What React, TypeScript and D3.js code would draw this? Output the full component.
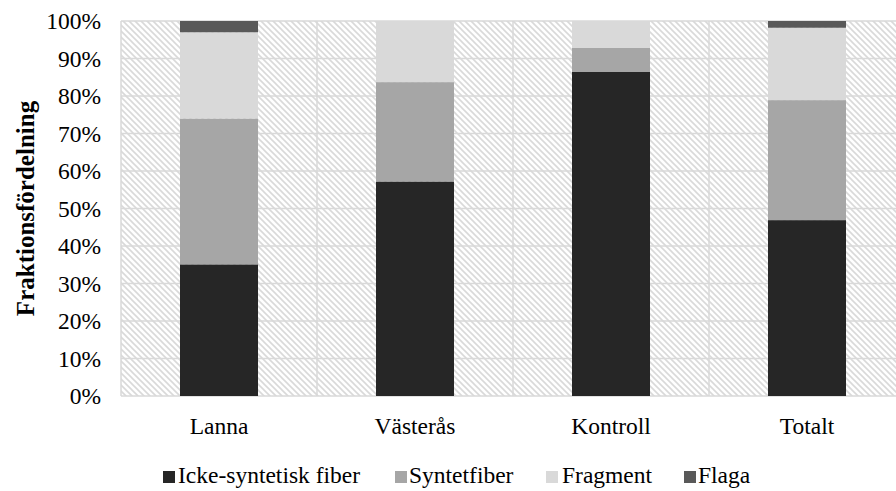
import React from "react";
import * as d3 from "d3";

const categories = ["Lanna", "Västerås", "Kontroll", "Totalt"];
const seriesNames = ["Icke-syntetisk fiber", "Syntetfiber", "Fragment", "Flaga"];
const ickeSyntetisk = [35.1, 57.2, 86.4, 46.9];
const syntetfiber = [38.9, 26.5, 6.4, 32.0];
const fragment = [23.0, 16.3, 7.2, 19.3];
const flaga = [3.0, 0, 0, 1.8];
const seriesColors = ["#262626", "#a6a6a6", "#d9d9d9", "#595959"];
const yTicks = [0, 10, 20, 30, 40, 50, 60, 70, 80, 90, 100];

const W = 896;
const H = 491;
const plotLeft = 121;
const plotTop = 21;
const plotBottom = 396;
const plotRight = 905;
const FONT = '"Liberation Serif", "Times New Roman", "DejaVu Serif", serif';
const textStyle = { fontFamily: FONT };

export default function App() {
  const x = d3
    .scaleBand<string>()
    .domain(categories)
    .range([plotLeft, plotRight])
    .paddingInner(0.602)
    .paddingOuter(0.301);
  const y = d3.scaleLinear().domain([0, 100]).range([plotBottom, plotTop]);

  const rows = categories.map((c, i) => ({
    cat: c,
    s0: ickeSyntetisk[i],
    s1: syntetfiber[i],
    s2: fragment[i],
    s3: flaga[i],
  }));
  const stack = d3.stack<any>().keys(["s0", "s1", "s2", "s3"]);
  const layers = stack(rows);

  const step = x.step();
  const boundaries = d3.range(categories.length + 1).map((i) => plotLeft + i * step);

  const legendItems = [
    { sq: 163, tx: 178 },
    { sq: 395, tx: 409 },
    { sq: 546, tx: 562 },
    { sq: 684, tx: 698 },
  ];

  return (
    <svg
      width={W}
      height={H}
      style={{ position: "absolute", left: 0, top: 0, background: "#fff" }}
    >
      <defs>
        <pattern id="hatch" patternUnits="userSpaceOnUse" width={6} height={6}>
          <rect width={6} height={6} fill="#ffffff" />
          <path d="M0,0 L6,6 M-1,5 L1,7 M5,-1 L7,1" stroke="#d9d9d9" strokeWidth={1.6} />
        </pattern>
        <clipPath id="clip">
          <rect x={0} y={0} width={W} height={H} />
        </clipPath>
      </defs>
      <g clipPath="url(#clip)">
        <rect
          x={plotLeft}
          y={plotTop}
          width={plotRight - plotLeft}
          height={plotBottom - plotTop}
          fill="url(#hatch)"
        />
        {yTicks.map((t) => (
          <line
            key={"h" + t}
            x1={plotLeft}
            x2={plotRight}
            y1={y(t)}
            y2={y(t)}
            stroke="#d9d9d9"
            strokeWidth={1.5}
          />
        ))}
        {boundaries.map((b, i) => (
          <line
            key={"v" + i}
            x1={b}
            x2={b}
            y1={plotTop}
            y2={plotBottom}
            stroke="#d9d9d9"
            strokeWidth={1.5}
          />
        ))}
        {layers.map((layer, li) => (
          <g key={layer.key} fill={seriesColors[li]}>
            {layer.map((d: any, i: number) => {
              const h = y(d[0]) - y(d[1]);
              if (h <= 0) return null;
              return (
                <rect
                  key={i}
                  x={x(categories[i])}
                  y={y(d[1])}
                  width={x.bandwidth()}
                  height={h}
                />
              );
            })}
          </g>
        ))}
      </g>
      {yTicks.map((t) => (
        <text
          key={"yt" + t}
          x={101}
          y={y(t) + 8}
          textAnchor="end"
          fontSize={23.5}
          fill="#000"
          style={textStyle}
        >
          {t}%
        </text>
      ))}
      {categories.map((c) => (
        <text
          key={"xl" + c}
          x={(x(c) as number) + x.bandwidth() / 2}
          y={433.5}
          textAnchor="middle"
          fontSize={23.5}
          fill="#000"
          style={textStyle}
        >
          {c}
        </text>
      ))}
      <text
        transform={`translate(34, ${(plotTop + plotBottom) / 2}) rotate(-90)`}
        textAnchor="middle"
        fontSize={25}
        fontWeight="bold"
        fill="#000"
        style={textStyle}
      >
        Fraktionsfördelning
      </text>
      {seriesNames.map((n, i) => (
        <g key={"lg" + n}>
          <rect x={legendItems[i].sq} y={471} width={12} height={12} fill={seriesColors[i]} />
          <text x={legendItems[i].tx} y={483} fontSize={23.5} fill="#000" style={textStyle}>
            {n}
          </text>
        </g>
      ))}
    </svg>
  );
}
